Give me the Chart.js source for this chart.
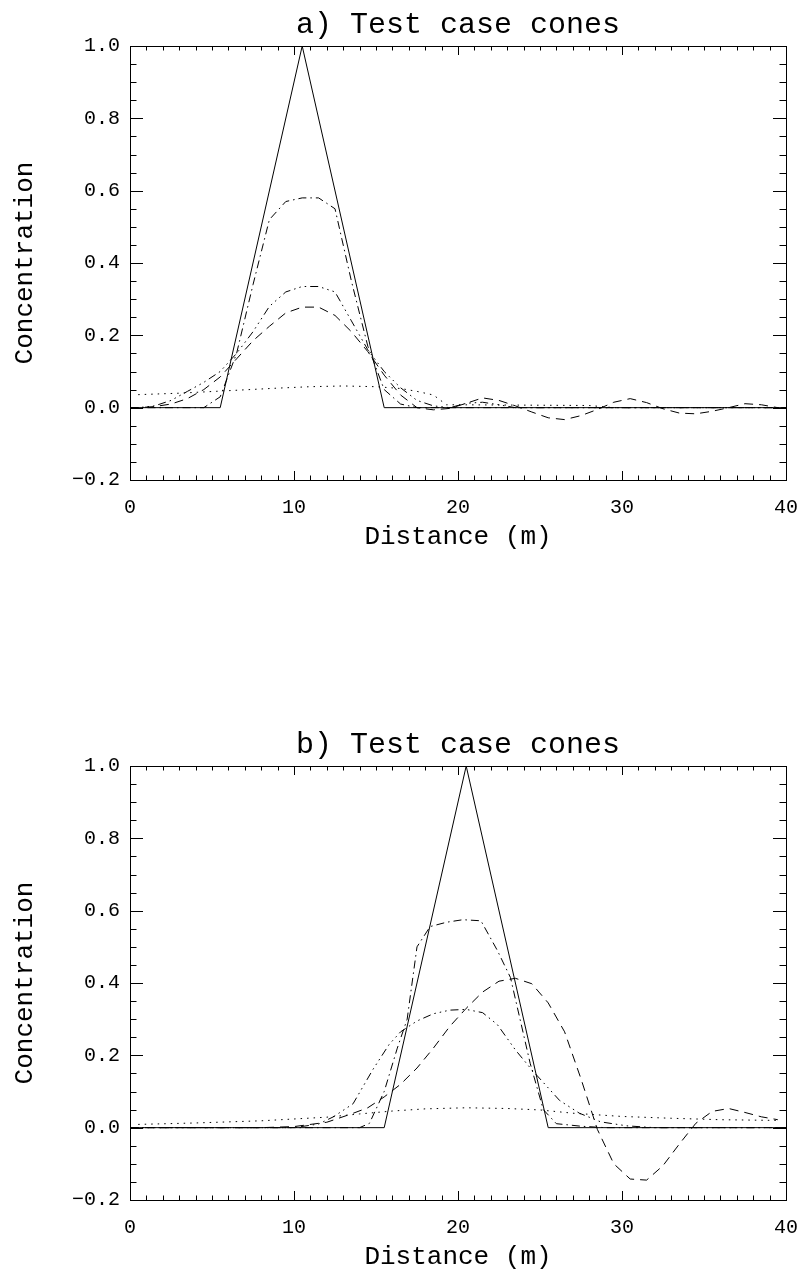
<!DOCTYPE html>
<html>
<head>
<meta charset="utf-8">
<script src="https://cdn.jsdelivr.net/npm/chart.js@4.4.1/dist/chart.umd.min.js"></script>
<style>
  body { margin: 0; background: #fff; }
  canvas { position: absolute; left: 0; }
  #coneA { top: 0; }
  #coneB { top: 720px; }
</style>
</head>
<body>
<canvas id="coneA" width="806" height="556"></canvas>
<canvas id="coneB" width="806" height="556"></canvas>
<script>
// Ejes
const xTicks = [0, 10, 20, 30, 40];
const yTicks = [-0.2, 0, 0.2, 0.4, 0.6, 0.8, 1.0];

// a) Cono en 10.5 m
const aSolidX = [0, 5.5, 10.5, 15.5, 40];
const aSolidY = [0, 0, 1, 0, 0];

const aDashDotX = [0, 4.5, 5.5, 6.5, 7.5, 8.5, 9.5, 10.5, 11.5, 12.5, 13.5, 14.5, 15.5, 16.5, 17.5, 40];
const aDashDotY = [0, 0, 0.03, 0.15, 0.34, 0.52, 0.57, 0.58, 0.58, 0.55, 0.35, 0.17, 0.05, 0.01, 0, 0];

const aDash3DotX = [0, 0.5, 1.5, 2.5, 3.5, 4.5, 5.5, 6.5, 7.5, 8.5, 9.5, 10.5, 11.5, 12.5, 13.5, 14.5, 15.5, 16.5, 17.5, 18.5, 19.5, 20.5, 21.5, 22.5, 23.5, 40];
const aDash3DotY = [0, 0, 0.005, 0.02, 0.045, 0.07, 0.1, 0.15, 0.21, 0.28, 0.32, 0.335, 0.335, 0.32, 0.24, 0.16, 0.1, 0.055, 0.02, 0.005, 0, 0.012, 0.015, 0.008, 0, 0];

const aDashedX = [0, 0.5, 1.5, 2.5, 3.5, 4.5, 5.5, 6.5, 7.5, 8.5, 9.5, 10.5, 11.5, 12.5, 13.5, 14.5, 15.5, 16.5, 17.5, 18.5, 19.5,
                  20.5, 21.5, 22.5, 23.5, 24.5, 25.5, 26.5, 27.5, 28.5, 29.5, 30.5, 31.5, 32.5, 33.5, 34.5, 35.5, 36.5, 37.5, 38.5, 39.5];
const aDashedY = [0, 0, 0.003, 0.01, 0.025, 0.05, 0.085, 0.135, 0.185, 0.225, 0.262, 0.278, 0.278, 0.255, 0.21, 0.155, 0.09, 0.035, 0, -0.006, -0.002,
                  0.012, 0.027, 0.02, 0.005, -0.012, -0.028, -0.033, -0.022, -0.005, 0.015, 0.025, 0.014, -0.003, -0.015, -0.017, -0.01, 0, 0.011, 0.008, 0];

const aDottedX = [0.5, 3, 6, 9, 11, 13, 15, 16.5, 17.5, 18.5, 19.3, 20, 24, 28, 29.5, 40];
const aDottedY = [0.036, 0.04, 0.047, 0.054, 0.058, 0.06, 0.058, 0.053, 0.045, 0.035, 0.008, 0.008, 0.007, 0.006, 0, 0];

// b) Cono en 20.5 m
const bSolidX = [0, 15.5, 20.5, 25.5, 40];
const bSolidY = [0, 0, 1, 0, 0];

const bDashDotX = [0, 14, 14.6, 15.5, 16.3, 16.9, 17.5, 18.3, 19.3, 20.3, 21.4, 22.4, 23.2, 24.4, 25.2, 26.0, 27.5, 29, 40];
const bDashDotY = [0, 0, 0.012, 0.1, 0.22, 0.3, 0.5, 0.556, 0.568, 0.575, 0.572, 0.49, 0.415, 0.178, 0.05, 0.011, 0.004, 0, 0];

const bDash3DotX = [0, 10, 11.5, 12.4, 13.6, 14.8, 15.8, 16.5, 17.5, 18.5, 19.5, 20.5, 21.5, 22.4, 23.5, 24.5, 25.4, 26.2, 27.4, 28.7, 30.3, 32, 40];
const bDash3DotY = [0, 0, 0.01, 0.03, 0.066, 0.16, 0.23, 0.265, 0.295, 0.315, 0.325, 0.327, 0.318, 0.285, 0.215, 0.16, 0.115, 0.075, 0.04, 0.016, 0.005, 0, 0];

const bDashedX = [0, 8, 10, 12, 13.5, 14.5, 15.5, 16.5, 17.5, 18.5, 19.5, 20.5, 21.5, 22.5, 23.5, 24.5, 25.5, 26.5, 27.5, 28.5,
                  29.5, 30.5, 31.5, 32.5, 33.5, 34.5, 35.5, 36.5, 37.5, 38.5, 39.5];
const bDashedY = [0, 0, 0.003, 0.015, 0.038, 0.055, 0.085, 0.12, 0.165, 0.22, 0.28, 0.33, 0.375, 0.405, 0.413, 0.398, 0.345, 0.265, 0.135, -0.005,
                  -0.1, -0.142, -0.145, -0.105, -0.045, 0.012, 0.045, 0.053, 0.042, 0.03, 0.022];

const bDottedX = [0.5, 4, 8, 12, 14, 16, 18, 20.5, 23, 25, 27, 30, 33, 36, 39.5];
const bDottedY = [0.009, 0.013, 0.019, 0.029, 0.038, 0.046, 0.052, 0.055, 0.053, 0.049, 0.04, 0.031, 0.026, 0.022, 0.02];

// Estilos de linea (tipo IDL)
const SOLID = [];
const DASHED = [9, 6];
const DOTTED = [1.5, 5];
const DASH_DOT = [8, 4, 1.5, 4];
const DASH_3DOT = [8, 4, 1.5, 4, 1.5, 4, 1.5, 4];

Chart.defaults.font.family = "'Liberation Mono', 'DejaVu Sans Mono', monospace";
Chart.defaults.color = '#000';

function serie(xs, ys, dash) {
    return {
        data: xs.map((x, i) => ({ x: x, y: ys[i] })),
        borderColor: '#000',
        borderWidth: 1,
        borderDash: dash,
        pointRadius: 0,
        showLine: true,
        fill: false,
        tension: 0
    };
}

// Marco con marcas hacia dentro en los cuatro lados
const marco = {
    id: 'marco',
    afterDatasetsDraw(chart) {
        const { ctx, chartArea: a, scales: { x, y } } = chart;
        ctx.save();
        ctx.strokeStyle = '#000';
        ctx.lineWidth = 1;
        ctx.strokeRect(Math.round(a.left) + 0.5, Math.round(a.top) + 0.5,
            Math.round(a.right - a.left), Math.round(a.bottom - a.top));
        ctx.beginPath();
        for (let v = x.min; v <= x.max; v += 1) {
            const px = Math.round(x.getPixelForValue(v)) + 0.5;
            const len = xTicks.includes(v) ? 9 : 4.5;
            ctx.moveTo(px, a.bottom); ctx.lineTo(px, a.bottom - len);
            ctx.moveTo(px, a.top); ctx.lineTo(px, a.top + len);
        }
        for (let i = 0; i <= 24; i++) {
            const v = y.min + i * 0.05;
            const py = Math.round(y.getPixelForValue(v)) + 0.5;
            const len = i % 4 === 0 ? 13 : 6.5;
            ctx.moveTo(a.left, py); ctx.lineTo(a.left + len, py);
            ctx.moveTo(a.right, py); ctx.lineTo(a.right - len, py);
        }
        ctx.stroke();
        ctx.restore();
    }
};

function grafica(id, titulo, series) {
    return new Chart(document.getElementById(id), {
        type: 'scatter',
        data: { datasets: series },
        options: {
            responsive: false,
            animation: false,
            devicePixelRatio: 1,
            layout: { padding: { left: 0, right: 20, top: 0, bottom: 0 } },
            plugins: {
                legend: { display: false },
                tooltip: { enabled: false },
                title: {
                    display: true,
                    text: titulo,
                    fullSize: false,
                    color: '#000',
                    font: { size: 30, weight: 'normal', lineHeight: 1 },
                    padding: { top: 10, bottom: 6 }
                }
            },
            scales: {
                x: {
                    type: 'linear',
                    min: 0,
                    max: 40,
                    afterBuildTicks: (s) => { s.ticks = xTicks.map(v => ({ value: v })); },
                    afterFit: (s) => { s.height = 76; s.paddingLeft = 0; s.paddingRight = 0; },
                    grid: { display: false, drawTicks: false },
                    border: { display: false },
                    ticks: {
                        padding: 16,
                        maxRotation: 0,
                        font: { size: 20 },
                        callback: (v) => String(v)
                    },
                    title: {
                        display: true,
                        text: 'Distance (m)',
                        font: { size: 26, lineHeight: 1 },
                        padding: { top: 0, bottom: 6 }
                    }
                },
                y: {
                    type: 'linear',
                    min: -0.2,
                    max: 1.0,
                    afterBuildTicks: (s) => { s.ticks = yTicks.map(v => ({ value: v })); },
                    afterFit: (s) => { s.width = 130; s.paddingTop = 0; s.paddingBottom = 0; },
                    grid: { display: false, drawTicks: false },
                    border: { display: false },
                    ticks: {
                        padding: 10,
                        font: { size: 20 },
                        callback: (v) => v < 0 ? '\u2212' + Math.abs(v).toFixed(1) : v.toFixed(1)
                    },
                    title: {
                        display: true,
                        text: 'Concentration',
                        font: { size: 26, lineHeight: 1 },
                        padding: { top: 12, bottom: 0 }
                    }
                }
            }
        },
        plugins: [marco]
    });
}

grafica('coneA', 'a) Test case cones', [
    serie(aDottedX, aDottedY, DOTTED),
    serie(aDashedX, aDashedY, DASHED),
    serie(aDash3DotX, aDash3DotY, DASH_3DOT),
    serie(aDashDotX, aDashDotY, DASH_DOT),
    serie(aSolidX, aSolidY, SOLID)
]);

grafica('coneB', 'b) Test case cones', [
    serie(bDottedX, bDottedY, DOTTED),
    serie(bDashedX, bDashedY, DASHED),
    serie(bDash3DotX, bDash3DotY, DASH_3DOT),
    serie(bDashDotX, bDashDotY, DASH_DOT),
    serie(bSolidX, bSolidY, SOLID)
]);
</script>
</body>
</html>
